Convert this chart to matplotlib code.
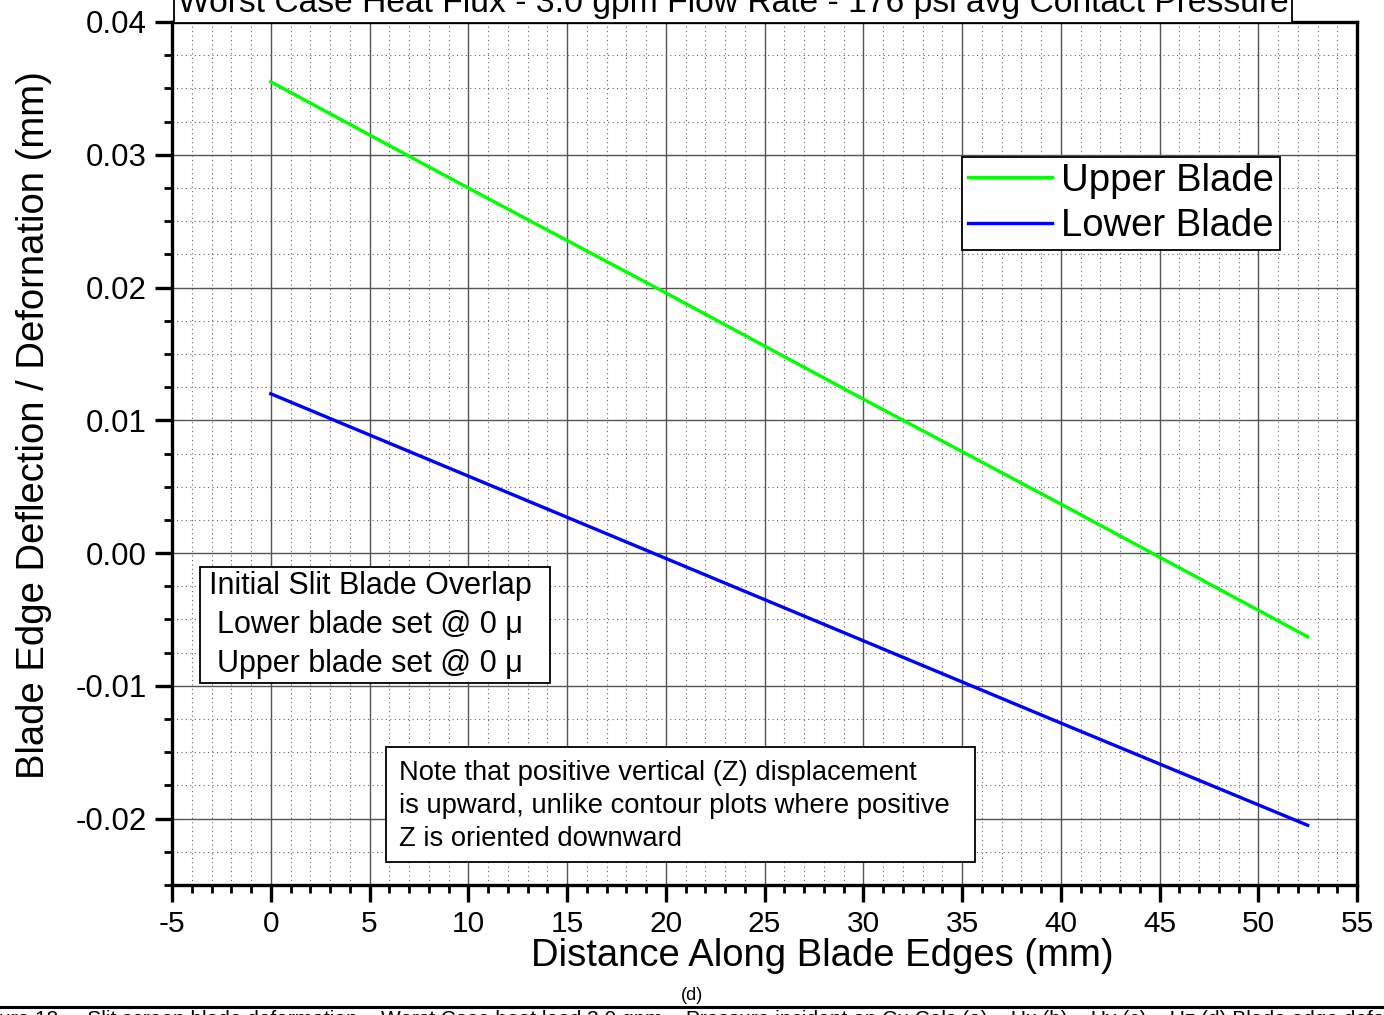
import matplotlib
matplotlib.use('Agg')
import matplotlib.pyplot as plt
from matplotlib.patches import Rectangle
from matplotlib.ticker import MultipleLocator, FormatStrFormatter

plt.rcParams['font.family'] = ['Liberation Sans', 'DejaVu Sans']

# Data
distance = [0, 10, 20, 30, 40, 52.5]
upper_blade = [0.0355, 0.0275, 0.0196, 0.0116, 0.0037, -0.0063]
lower_blade = [0.0120, 0.0058, -0.0004, -0.0066, -0.0128, -0.0205]

title = 'Worst Case Heat Flux - 3.0 gpm Flow Rate - 176 psi avg Contact Pressure'
overlap_note = 'Initial Slit Blade Overlap\nLower blade set @ 0 \u03bc\nUpper blade set @ 0 \u03bc'
z_note = ('Note that positive vertical (Z) displacement\n'
          'is upward, unlike contour plots where positive\n'
          'Z is oriented downward')
caption = ('Figure 18 \u2013  Slit screen blade deformation \u2013 Worst Case heat load 3.0 gpm \u2013 '
           'Pressure incident on Cu Cols (a) \u2013 Ux (b) \u2013 Uy (c) \u2013 Uz (d) Blade edge deformation')

W, H = 1384, 1015
fig = plt.figure(figsize=(W / 100, H / 100), dpi=100)
ax = fig.add_axes([172/W, 130/H, 1185/W, 863/H])

def ax_x(px):
    return (px - 172) / 1185

def ax_y(py):
    return (885 - py) / 863

ax.plot(distance, upper_blade, color='#00ff00', lw=2.4, label='Upper Blade')
ax.plot(distance, lower_blade, color='#0000ff', lw=2.4, label='Lower Blade')

ax.set_xlim(-5, 55)
ax.set_ylim(-0.025, 0.04)
ax.xaxis.set_major_locator(MultipleLocator(5))
ax.xaxis.set_minor_locator(MultipleLocator(1))
ax.yaxis.set_major_locator(MultipleLocator(0.01))
ax.yaxis.set_minor_locator(MultipleLocator(0.0025))
ax.yaxis.set_major_formatter(FormatStrFormatter('%.2f'))
ax.xaxis.set_major_formatter(FormatStrFormatter('%d'))

# Grid: solid majors, dotted minors
ax.grid(which='major', color='#555555', lw=1.0, ls='-')
ax.grid(which='minor', color='#666666', lw=0.8, ls=(0, (1, 3)))
ax.set_axisbelow(True)

for s in ax.spines.values():
    s.set_linewidth(2.4)
ax.tick_params(which='major', direction='out', length=12, width=2.4, pad=6)
ax.tick_params(which='minor', direction='out', length=6, width=2.0)
ax.tick_params(axis='x', labelsize=21.5)
ax.tick_params(axis='y', labelsize=22.5, pad=6)

ax.set_xlabel('Distance Along Blade Edges (mm)', fontsize=27.5)
ax.set_ylabel('Blade Edge Deflection / Defornation (mm)', fontsize=27.5)
ax.xaxis.set_label_coords(ax_x(822), ax_y(938))
ax.yaxis.set_label_coords(ax_x(52), ax_y(425))

# Title in a box, partly outside the top edge
fig.text(733/W, 1 - 12/H, title, fontsize=24.2, ha='center', va='baseline',
         bbox=dict(boxstyle='square,pad=0.12', fc='white', ec='black', lw=1.3))

leg = ax.legend(loc='upper right', bbox_to_anchor=(1280/W, 1 - 157/H),
                bbox_transform=fig.transFigure, fontsize=27.5, handlelength=2.2,
                handletextpad=0.25, borderpad=0.15, labelspacing=0.25,
                fancybox=False, framealpha=1, borderaxespad=0)
leg.get_frame().set_edgecolor('black')
leg.get_frame().set_linewidth(1.3)

# Overlap note box
ax.add_patch(Rectangle((ax_x(200), ax_y(683)), ax_x(550) - ax_x(200), ax_y(567) - ax_y(683),
                       transform=ax.transAxes, fc='white', ec='black', lw=1.3, zorder=4))
ax.text(ax_x(370), ax_y(625), overlap_note, transform=ax.transAxes,
        fontsize=22, ha='center', va='center', multialignment='center',
        linespacing=1.4, zorder=5)

# Z direction note box
ax.add_patch(Rectangle((ax_x(386), ax_y(862)), ax_x(975) - ax_x(386), ax_y(747) - ax_y(862),
                       transform=ax.transAxes, fc='white', ec='black', lw=1.3, zorder=4))
ax.text(ax_x(399), ax_y(806), z_note, transform=ax.transAxes,
        fontsize=19.7, ha='left', va='center', linespacing=1.35, zorder=5)

# Document leftovers below the chart
fig.text(692/W, 1 - 995/H, '(d)', fontsize=13, ha='center', va='center')
fig.add_artist(plt.Line2D([0, 1], [1 - 1007/H, 1 - 1007/H],
                          transform=fig.transFigure, color='black', lw=2.2))
fig.text(-30/W, 1 - 1010/H, caption, fontsize=15, ha='left', va='top')

fig.savefig('out.png', dpi=100)
